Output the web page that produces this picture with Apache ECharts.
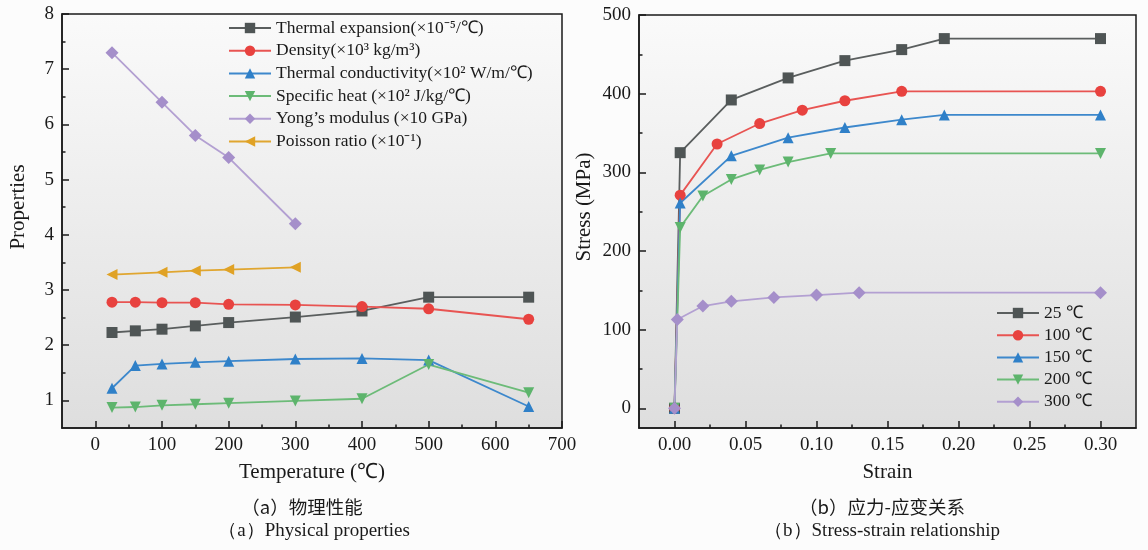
<!DOCTYPE html>
<html><head><meta charset="utf-8">
<script src="https://cdn.jsdelivr.net/npm/echarts@6/dist/echarts.min.js"></script>
<style>html,body{margin:0;padding:0;background:#fcfcfc;}#c{width:1148px;height:550px;}</style>
</head><body><div id="c"></div>
<script>
// ---- Panel (a): physical properties ----
const temps = [25, 60, 100, 150, 200, 300, 400, 500, 650];
const tempsShort = [25, 100, 150, 200, 300];
const thermalExpansion = [2.23, 2.26, 2.29, 2.35, 2.41, 2.51, 2.62, 2.87, 2.87];
const density = [2.78, 2.78, 2.77, 2.77, 2.74, 2.73, 2.70, 2.66, 2.47];
const thermalConductivity = [1.22, 1.63, 1.66, 1.69, 1.71, 1.75, 1.76, 1.73, 0.89];
const specificHeat = [0.87, 0.88, 0.91, 0.93, 0.95, 0.99, 1.03, 1.65, 1.14];
const youngsModulus = [7.3, 6.4, 5.8, 5.4, 4.2];
const poissonRatio = [3.28, 3.32, 3.35, 3.37, 3.41];
const leftNames = ['Thermal expansion(×10⁻⁵/℃)', 'Density(×10³ kg/m³)', 'Thermal conductivity(×10² W/m/℃)',
  'Specific heat (×10² J/kg/℃)', 'Yong’s modulus (×10 GPa)', 'Poisson ratio (×10⁻¹)'];
const tempTicks = [0, 100, 200, 300, 400, 500, 600, 700];
const tempMinor = [50, 150, 250, 350, 450, 550, 650];
const propTicks = [1, 2, 3, 4, 5, 6, 7, 8];
const propMinor = [1.5, 2.5, 3.5, 4.5, 5.5, 6.5, 7.5];

// ---- Panel (b): stress-strain ----
const rightNames = ['25 ℃', '100 ℃', '150 ℃', '200 ℃', '300 ℃'];
const strain25 = [0, 0.004, 0.04, 0.08, 0.12, 0.16, 0.19, 0.30];
const stress25 = [0, 325, 392, 420, 442, 456, 470, 470];
const strain100 = [0, 0.004, 0.03, 0.06, 0.09, 0.12, 0.16, 0.30];
const stress100 = [0, 271, 336, 362, 379, 391, 403, 403];
const strain150 = [0, 0.004, 0.04, 0.08, 0.12, 0.16, 0.19, 0.30];
const stress150 = [0, 261, 321, 344, 357, 367, 373, 373];
const strain200 = [0, 0.004, 0.02, 0.04, 0.06, 0.08, 0.11, 0.30];
const stress200 = [0, 230, 270, 291, 303, 313, 324, 324];
const strain300 = [0, 0.002, 0.02, 0.04, 0.07, 0.10, 0.13, 0.30];
const stress300 = [0, 113, 130, 136, 141, 144, 147, 147];
const strainTicks = [0, 0.05, 0.10, 0.15, 0.20, 0.25, 0.30];
const strainMinor = [0.025, 0.075, 0.125, 0.175, 0.225, 0.275];
const stressTicks = [0, 100, 200, 300, 400, 500];
const stressMinor = [50, 150, 250, 350, 450];

const colors = ['#4f5555', '#e8423f', '#2f80c8', '#5db46c', '#a58fca', '#e0a225'];
const lineColors = ['#5a5e5e', '#e85452', '#3d88cc', '#6cbb78', '#b3a0d2', '#e0a630'];
const symbols = ['rect', 'circle', 'triangle', 'path://M0,0 L10,0 L5,9 Z', 'diamond', 'path://M0,5 L9,0 L9,10 Z'];

const pair = (xs, ys) => xs.map((x, i) => [x, ys[i]]);
const FONT = 'Liberation Serif';
const axisCol = '#1a1a1a';

function grad() {
  return new echarts.graphic.LinearGradient(0, 0, 0, 1, [
    {offset: 0, color: '#fafafa'}, {offset: 1, color: '#dedede'}]);
}
function mainAxis(gridIndex, min, max, ticks, fmt, name, nameGap, isY) {
  return {
    type: 'value', gridIndex, min, max,
    position: isY ? 'left' : 'bottom',
    name, nameLocation: 'middle', nameGap,
    nameTextStyle: {fontFamily: FONT, fontSize: 21, color: '#1a1a1a'},
    axisLine: {show: true, onZero: false, lineStyle: {color: axisCol, width: 1.5}},
    axisTick: {show: true, inside: true, length: 7, customValues: ticks, lineStyle: {color: axisCol, width: 1.5}},
    axisLabel: {show: true, customValues: ticks, formatter: fmt, margin: 8,
      fontFamily: FONT, fontSize: 19, color: '#1a1a1a'},
    splitLine: {show: false}
  };
}
function minorAxis(gridIndex, min, max, ticks, isY) {
  return {
    type: 'value', gridIndex, min, max,
    position: isY ? 'left' : 'bottom',
    axisLine: {show: false, onZero: false},
    axisTick: {show: true, inside: true, length: 3.5, customValues: ticks, lineStyle: {color: axisCol, width: 1.5}},
    axisLabel: {show: false},
    splitLine: {show: false}
  };
}

const series = [];
const leftX = [temps, temps, temps, temps, tempsShort, tempsShort];
const leftY = [thermalExpansion, density, thermalConductivity, specificHeat, youngsModulus, poissonRatio];
leftNames.forEach((n, i) => {
  series.push({
    name: n, type: 'line', xAxisIndex: 0, yAxisIndex: 0,
    data: pair(leftX[i], leftY[i]),
    symbol: symbols[i], symbolSize: i === 4 ? 13 : 11,
    lineStyle: {color: lineColors[i], width: 1.8},
    itemStyle: {color: colors[i]}
  });
});
const rightX = [strain25, strain100, strain150, strain200, strain300];
const rightY = [stress25, stress100, stress150, stress200, stress300];
rightNames.forEach((n, i) => {
  series.push({
    name: n, type: 'line', xAxisIndex: 2, yAxisIndex: 2,
    data: pair(rightX[i], rightY[i]),
    symbol: symbols[i], symbolSize: i === 4 ? 13 : 11,
    lineStyle: {color: lineColors[i], width: 1.8},
    itemStyle: {color: colors[i]}
  });
});

const legendText = {fontFamily: FONT, fontSize: 17.5, color: '#1a1a1a', lineHeight: 16};
const capStyle = (t, x, y, cjk, size) => ({
  type: 'text', x, y,
  style: {text: t, fontFamily: cjk ? 'Noto Sans CJK SC' : FONT, fontSize: size, fill: '#1a1a1a',
    textAlign: 'center', textVerticalAlign: 'middle'}
});
const vName = (t, x, y) => ({
  type: 'text', x, y, rotation: Math.PI / 2,
  style: {text: t, fontFamily: FONT, fontSize: 21, fill: '#1a1a1a', textAlign: 'center', textVerticalAlign: 'middle'}
});

const chart = echarts.init(document.getElementById('c'), null, {renderer: 'canvas'});
chart.setOption({
  animation: false,
  backgroundColor: '#fcfcfc',
  grid: [
    {left: 62, top: 14, width: 500, height: 414, show: true, backgroundColor: grad(), borderColor: axisCol, borderWidth: 1.5},
    {left: 639, top: 15, width: 497, height: 413, show: true, backgroundColor: grad(), borderColor: axisCol, borderWidth: 1.5}
  ],
  xAxis: [
    mainAxis(0, -50, 700, tempTicks, v => v, 'Temperature (℃)', 34, false),
    minorAxis(0, -50, 700, tempMinor, false),
    mainAxis(1, -0.025, 0.325, strainTicks, v => v.toFixed(2), 'Strain', 34, false),
    minorAxis(1, -0.025, 0.325, strainMinor, false)
  ],
  yAxis: [
    mainAxis(0, 0.5, 8, propTicks, v => v, '', 34, true),
    minorAxis(0, 0.5, 8, propMinor, true),
    mainAxis(1, -25, 500, stressTicks, v => v, '', 44, true),
    minorAxis(1, -25, 500, stressMinor, true)
  ],
  legend: [
    {data: leftNames, orient: 'vertical', left: 223, top: 14, itemWidth: 42, itemHeight: 13,
      itemGap: 4.7, textStyle: legendText},
    {data: rightNames, orient: 'vertical', left: 991, top: 299, itemWidth: 42, itemHeight: 13,
      itemGap: 4.2, textStyle: legendText}
  ],
  graphic: [
    vName('Properties', 18, 207),
    vName('Stress (MPa)', 584, 207),
    capStyle('（a）物理性能', 302, 507, true, 18.5),
    capStyle('（a）Physical properties', 314, 531, false, 19),
    capStyle('（b）应力-应变关系', 882, 507, true, 18.5),
    capStyle('（b）Stress-strain relationship', 882, 531, false, 19)
  ],
  series
});
</script></body></html>
